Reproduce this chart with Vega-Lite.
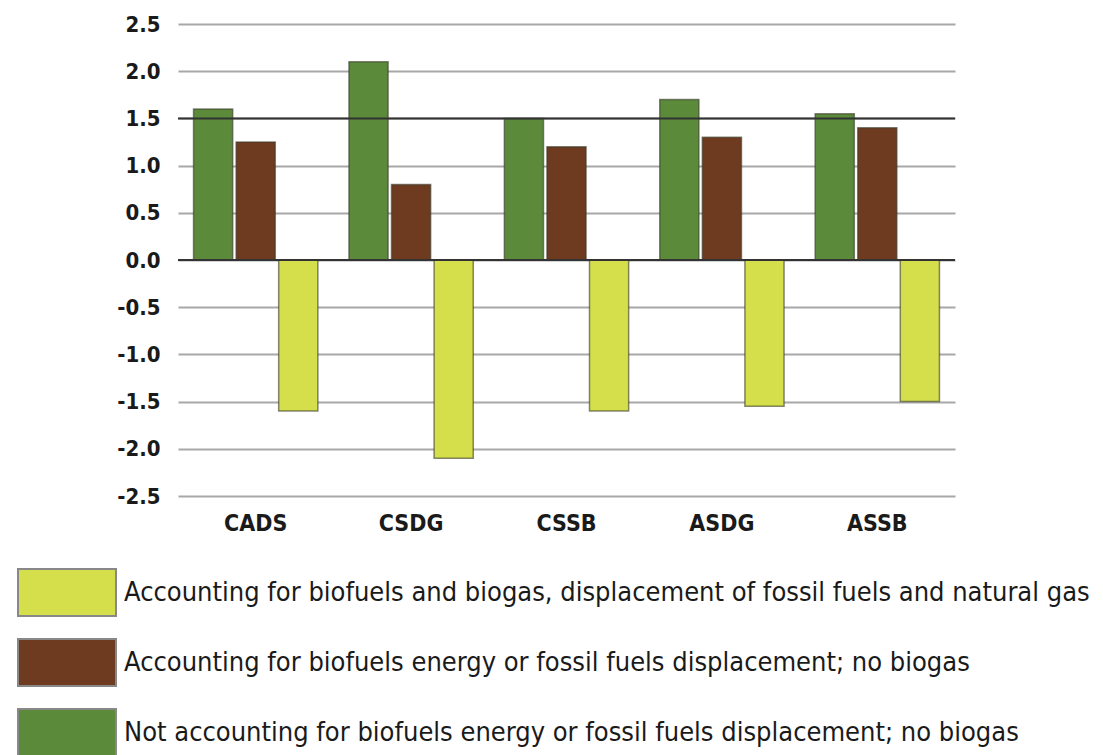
{
  "$schema": "https://vega.github.io/schema/vega-lite/v6.json",
  "width": 777,
  "height": 472,
  "autosize": "none",
  "padding": {"left": 178, "top": 24, "right": 148, "bottom": 259},
  "background": "white",
  "config": {
    "view": {"stroke": null},
    "font": "DejaVu Sans Condensed"
  },
  "data": {
    "values": [
      {"site": "CADS", "series": "Not accounting for biofuels energy or fossil fuels displacement; no biogas", "value": 1.6},
      {"site": "CADS", "series": "Accounting for biofuels energy or fossil fuels displacement; no biogas", "value": 1.25},
      {"site": "CADS", "series": "Accounting for biofuels and biogas, displacement of fossil fuels and natural gas", "value": -1.6},
      {"site": "CSDG", "series": "Not accounting for biofuels energy or fossil fuels displacement; no biogas", "value": 2.1},
      {"site": "CSDG", "series": "Accounting for biofuels energy or fossil fuels displacement; no biogas", "value": 0.8},
      {"site": "CSDG", "series": "Accounting for biofuels and biogas, displacement of fossil fuels and natural gas", "value": -2.1},
      {"site": "CSSB", "series": "Not accounting for biofuels energy or fossil fuels displacement; no biogas", "value": 1.5},
      {"site": "CSSB", "series": "Accounting for biofuels energy or fossil fuels displacement; no biogas", "value": 1.2},
      {"site": "CSSB", "series": "Accounting for biofuels and biogas, displacement of fossil fuels and natural gas", "value": -1.6},
      {"site": "ASDG", "series": "Not accounting for biofuels energy or fossil fuels displacement; no biogas", "value": 1.7},
      {"site": "ASDG", "series": "Accounting for biofuels energy or fossil fuels displacement; no biogas", "value": 1.3},
      {"site": "ASDG", "series": "Accounting for biofuels and biogas, displacement of fossil fuels and natural gas", "value": -1.55},
      {"site": "ASSB", "series": "Not accounting for biofuels energy or fossil fuels displacement; no biogas", "value": 1.55},
      {"site": "ASSB", "series": "Accounting for biofuels energy or fossil fuels displacement; no biogas", "value": 1.4},
      {"site": "ASSB", "series": "Accounting for biofuels and biogas, displacement of fossil fuels and natural gas", "value": -1.5}
    ]
  },
  "layer": [
    {
      "mark": {"type": "bar", "strokeWidth": 1.5, "stroke": "#3a3a2a", "strokeOpacity": 0.6},
      "encoding": {
        "x": {
          "field": "site",
          "type": "nominal",
          "sort": ["CADS", "CSDG", "CSSB", "ASDG", "ASSB"],
          "scale": {"paddingInner": 0.2, "paddingOuter": 0.1},
          "axis": {
            "title": null,
            "labelAngle": 0,
            "domain": false,
            "ticks": false,
            "labelFontSize": 23,
            "labelFontWeight": "bold",
            "labelColor": "#1a1a1a",
            "labelPadding": 16,
            "labelFont": "DejaVu Sans Condensed"
          }
        },
        "xOffset": {
          "field": "series",
          "type": "nominal",
          "sort": [
            "Not accounting for biofuels energy or fossil fuels displacement; no biogas",
            "Accounting for biofuels energy or fossil fuels displacement; no biogas",
            "Accounting for biofuels and biogas, displacement of fossil fuels and natural gas"
          ],
          "scale": {"paddingInner": 0.08}
        },
        "y": {
          "field": "value",
          "type": "quantitative",
          "scale": {"domain": [-2.5, 2.5], "nice": false},
          "axis": {
            "title": null,
            "values": [-2.5, -2, -1.5, -1, -0.5, 0, 0.5, 1, 1.5, 2, 2.5],
            "labelExpr": "replace(format(datum.value, '.1f'), '\u2212', '-')",
            "domain": false,
            "ticks": false,
            "grid": true,
            "gridColor": "#a8a8a8",
            "gridWidth": 2,
            "labelFontSize": 22,
            "labelFontWeight": "bold",
            "labelColor": "#1a1a1a",
            "labelPadding": 18,
            "labelFont": "DejaVu Sans Condensed"
          }
        },
        "color": {
          "field": "series",
          "type": "nominal",
          "scale": {
            "domain": [
              "Accounting for biofuels and biogas, displacement of fossil fuels and natural gas",
              "Accounting for biofuels energy or fossil fuels displacement; no biogas",
              "Not accounting for biofuels energy or fossil fuels displacement; no biogas"
            ],
            "range": ["#d4df4b", "#6e3b21", "#5b8a3a"]
          },
          "legend": {
            "title": null,
            "orient": "none",
            "legendX": -161,
            "legendY": 543,
            "direction": "vertical",
            "symbolType": "M-1,-0.96L3,-0.96L3,0.96L-1,0.96Z",
            "symbolSize": 2401,
            "symbolStrokeColor": "#888888",
            "symbolStrokeWidth": 2,
            "symbolOpacity": 1,
            "rowPadding": 13,
            "labelFontSize": 27,
            "labelFont": "DejaVu Sans Condensed",
            "labelColor": "#1a1a1a",
            "labelLimit": 1000,
            "labelOffset": 56
          }
        }
      }
    },
    {
      "data": {"values": [{"y": 0}, {"y": 1.5}]},
      "mark": {"type": "rule", "color": "#333333", "strokeWidth": 2},
      "encoding": {"y": {"field": "y", "type": "quantitative"}}
    }
  ]
}
